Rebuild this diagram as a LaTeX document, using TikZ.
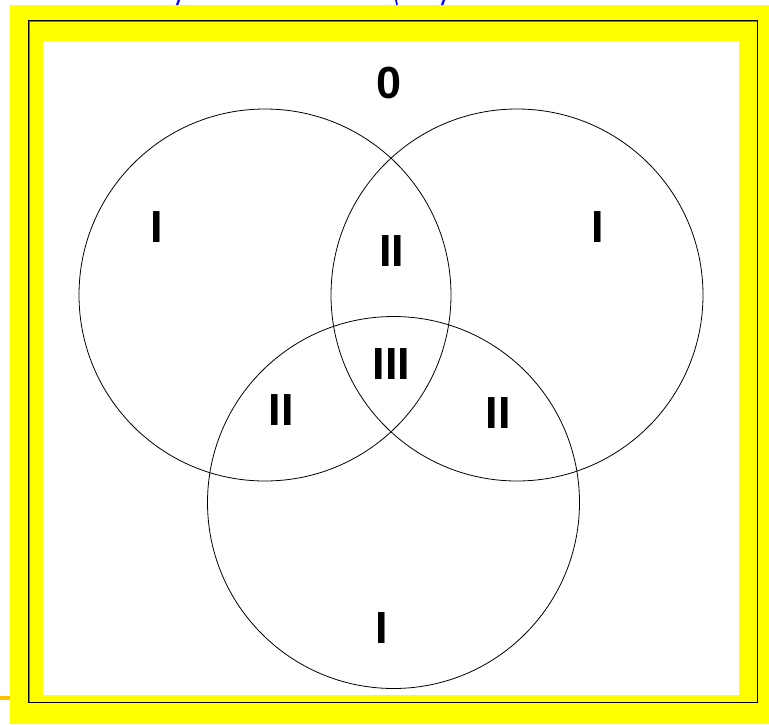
\documentclass[tikz,border=0pt]{standalone}
\usepackage{fontspec}
\setmainfont{Liberation Sans}
\definecolor{frameyellow}{RGB}{255,255,0}
\definecolor{lineorange}{RGB}{255,192,0}
\definecolor{fragblue}{RGB}{0,0,255}
\begin{document}
\begin{tikzpicture}[x=1pt,y=-1pt,
  venn/.style={draw=black,line width=0.8pt},
  lbl/.style={font=\fontsize{45}{54}\selectfont\bfseries,inner sep=0pt,anchor=center}]
\useasboundingbox (0,0) rectangle (769,724);
% frame
\fill[frameyellow] (10,5) rectangle (769,724);
\fill[white] (43,41) rectangle (739,695);
\draw[black!55,line width=1pt] (29.5,21.5) rectangle (757.5,702.5);
\draw[black,line width=0.9pt] (28.5,20.5) rectangle (757,702);
\fill[lineorange] (0,696) rectangle (10,700);
% cropped blue fragments at top edge
\draw[fragblue,line width=2.2pt] (177,5) -- (179,0);
\draw[fragblue,line width=1.6pt] (397,5) .. controls (396,3) .. (396,0);
\draw[fragblue,line width=2.2pt] (442,5) -- (444,0);
% circles
\node[venn,circle,minimum size=372pt,inner sep=0pt] (cl) at (265,295) {};
\node[venn,circle,minimum size=372pt,inner sep=0pt] (cr) at (517,295) {};
\node[venn,circle,minimum size=372pt,inner sep=0pt] (cb) at (393.5,502.5) {};
% labels
\node[lbl] (z) at (389,83) {0};
\node[lbl] (l1) at (156.5,227.5) {I};
\node[lbl] (r1) at (598,227.5) {I};
\node[lbl] (m2) at (391.5,251.5) {II};
\node[lbl] (c3) at (391.5,364.5) {III};
\node[lbl] (l2) at (281,410.5) {II};
\node[lbl] (r2) at (498,413.5) {II};
\node[lbl] (b1) at (381.5,628) {I};
\end{tikzpicture}
\end{document}
